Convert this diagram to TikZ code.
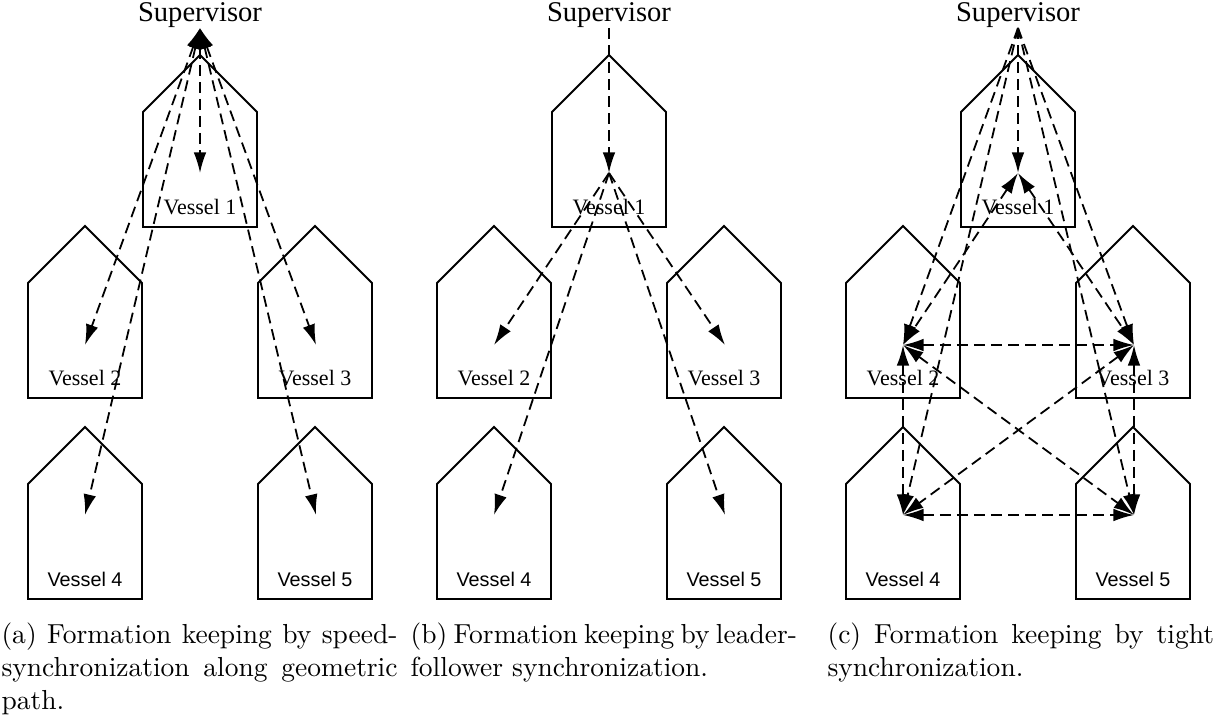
\documentclass[tikz,border=0pt]{standalone}
\usepackage{fontspec}
\newfontfamily\vesselserif{Liberation Serif}
\newfontfamily\vesselsans{Liberation Sans}
\usetikzlibrary{arrows.meta}

\begin{document}
\begin{tikzpicture}[
    x=0.3636pt, y=-0.3636pt,
    hull/.style={draw, line width=0.7pt, line join=miter},
    link/.style={dash pattern=on 4pt off 2.2pt, line width=0.65pt, >={Latex[length=7.5pt,width=4.6pt]}},
    upper/.style={font=\vesselserif\fontsize{8}{9}\selectfont, anchor=base, inner sep=0pt},
    lower/.style={font=\vesselsans\fontsize{7.2}{8}\selectfont, anchor=base, inner sep=0pt},
    boss/.style={font=\vesselserif\fontsize{10.4}{12}\selectfont, anchor=base, inner sep=0pt},
    caption/.style={anchor=base west, inner sep=0pt, align=justify},
    vessel/.pic={\draw[hull] (0,0) -- (57,57) -- (57,172) -- (-57,172) -- (-57,57) -- cycle;},
]
  \useasboundingbox (0,0) rectangle (1218,718);

  % the same five hulls in every panel
  \foreach \p/\dx in {a/0,b/409,c/818} {
    \node[boss] (sup\p) at (\dx+200,22) {Supervisor};
    \coordinate (top\p) at (\dx+200,28);

    \pic at (\dx+200,55)  {vessel};
    \pic at (\dx+85,226)  {vessel};
    \pic at (\dx+315,226) {vessel};
    \pic at (\dx+85,427)  {vessel};
    \pic at (\dx+315,427) {vessel};

    \node[upper] (lab\p1) at (\dx+200,214) {Vessel 1};
    \node[upper] (lab\p2) at (\dx+85,385)  {Vessel 2};
    \node[upper] (lab\p3) at (\dx+315,385) {Vessel 3};
    \node[lower] (lab\p4) at (\dx+85,586)  {Vessel 4};
    \node[lower] (lab\p5) at (\dx+315,586) {Vessel 5};

    \coordinate (\p1) at (\dx+200,173);
    \coordinate (\p2) at (\dx+85,345);
    \coordinate (\p3) at (\dx+316,345);
    \coordinate (\p4) at (\dx+85,515);
    \coordinate (\p5) at (\dx+316,515);
  }

  % (a) supervisor talks to every vessel
  \foreach \i in {1,...,5}
    \draw[link, <->] (topa) -- (a\i);

  % (b) supervisor -> leader -> followers
  \draw[link, ->] (topb) -- (b1);
  \foreach \i in {2,...,5}
    \draw[link, ->] (b1) -- (b\i);

  % (c) supervisor plus links between the vessels
  \foreach \i in {1,...,5}
    \draw[link, ->] (topc) -- (c\i);
  \foreach \u/\v in {1/2,1/3,2/3,4/5,2/4,3/5,2/5,3/4}
    \draw[link, <->] (c\u) -- (c\v);

  \node[caption, text width=144pt]   (capa) at (1,643)   {(a) Formation keeping by speed-synchronization along geometric path.};
  \node[caption, text width=140.5pt] (capb) at (410,643) {(b) Formation keeping by leader-follower synchronization.};
  \node[caption, text width=140.5pt] (capc) at (827,643) {(c) Formation keeping by tight synchronization.};
\end{tikzpicture}
\end{document}
